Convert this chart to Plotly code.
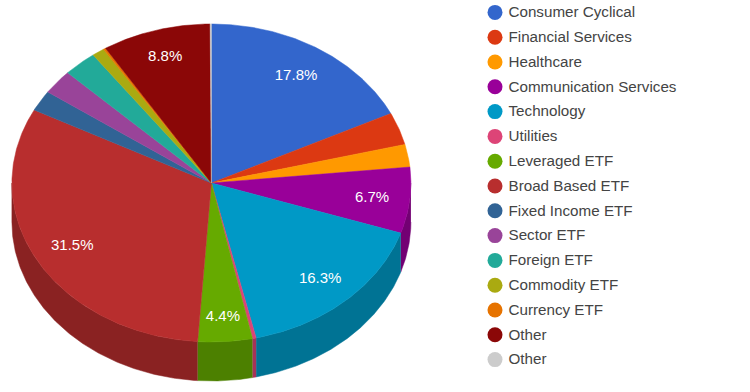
import numpy as np
import plotly.graph_objects as go

categories = ["Consumer Cyclical", "Financial Services", "Healthcare", "Communication Services",
              "Technology", "Utilities", "Leveraged ETF", "Broad Based ETF", "Fixed Income ETF",
              "Sector ETF", "Foreign ETF", "Commodity ETF", "Currency ETF", "Other", "Other"]
values = [17.8, 3.3, 2.3, 6.7, 16.3, 0.3, 4.4, 31.5, 2.1, 2.5, 2.7, 1.0, 0.2, 8.8, 0.1]
colors = ["#3366cc", "#dc3912", "#ff9900", "#990099", "#0099c6", "#dd4477", "#66aa00", "#b82e2e",
          "#316395", "#994499", "#22aa99", "#aaaa11", "#e67300", "#8b0707", "#cccccc"]
labelled = [0, 3, 4, 6, 7, 13]
label_reach = [0.80, 0.81, 0.81, 0.84, 0.80, 0.83]

W, H = 750, 392
CX, CY, RX, RY, DEPTH = 211.4, 183.0, 199.5, 159.0, 39.0
LABEL_DROP = 1.0
SHADE = 0.75
FONT = "Arial, Liberation Sans, sans-serif"
LEG_X, LEG_Y0, LEG_DY = 495.0, 12.4, 24.8
LEG_TEXT_X, LEG_TEXT_DROP = 508.5, 1.0


def darker(hex_color):
    r, g, b = (int(hex_color[i:i + 2], 16) for i in (1, 3, 5))
    return f"rgb({r * SHADE:.0f},{g * SHADE:.0f},{b * SHADE:.0f})"


def arc(a0, a1):
    t = np.radians(np.linspace(a0, a1, max(int(abs(a1 - a0) * 2), 2)))
    return CX + RX * np.sin(t), CY - RY * np.cos(t)


fig = go.Figure()
total = sum(values)
edges = np.concatenate([[0], np.cumsum(values)]) / total * 360

# side wall of the lower half
for i, c in enumerate(colors):
    a0, a1 = max(edges[i], 90), min(edges[i + 1], 270)
    if a1 <= a0:
        continue
    x, y = arc(a0, a1)
    fig.add_trace(go.Scatter(
        x=np.concatenate([x, x[::-1]]), y=np.concatenate([y, y[::-1] + DEPTH]),
        mode="lines", fill="toself", fillcolor=darker(c),
        line=dict(color=darker(c), width=0.5), hoverinfo="skip", showlegend=False))

# top face
for i, c in enumerate(colors):
    x, y = arc(edges[i], edges[i + 1])
    fig.add_trace(go.Scatter(
        x=np.concatenate([[CX], x, [CX]]), y=np.concatenate([[CY], y, [CY]]),
        mode="lines", fill="toself", fillcolor=c, line=dict(color=c, width=0.5),
        name=categories[i], hoverinfo="name", showlegend=False))

# percentage labels
mid = np.radians((edges[:-1] + edges[1:]) / 2)
fig.add_trace(go.Scatter(
    x=[CX + r * RX * np.sin(mid[i]) for i, r in zip(labelled, label_reach)],
    y=[CY + LABEL_DROP - r * RY * np.cos(mid[i]) for i, r in zip(labelled, label_reach)],
    text=[f"{values[i]:.1f}%" for i in labelled],
    mode="text", textposition="middle center",
    textfont=dict(family=FONT, size=15, color="white"),
    hoverinfo="skip", showlegend=False))

# legend column
leg_y = [LEG_Y0 + LEG_DY * i for i in range(len(categories))]
fig.add_trace(go.Scatter(
    x=[LEG_X] * len(categories), y=leg_y, mode="markers",
    marker=dict(size=15, color=colors, line=dict(width=0)),
    hoverinfo="skip", showlegend=False, cliponaxis=False))
fig.add_trace(go.Scatter(
    x=[LEG_TEXT_X] * len(categories), y=[v + LEG_TEXT_DROP for v in leg_y],
    text=categories, mode="text", textposition="middle right",
    textfont=dict(family=FONT, size=15.2, color="#444444"),
    hoverinfo="skip", showlegend=False, cliponaxis=False))

fig.update_layout(
    width=W, height=H, margin=dict(l=0, r=0, t=0, b=0),
    paper_bgcolor="white", plot_bgcolor="white", showlegend=False,
    xaxis=dict(range=[0, W], visible=False, fixedrange=True),
    yaxis=dict(range=[H, 0], visible=False, fixedrange=True))
fig.write_html("out.html", config={"displayModeBar": False},
               post_script="document.body.style.margin='0';")
